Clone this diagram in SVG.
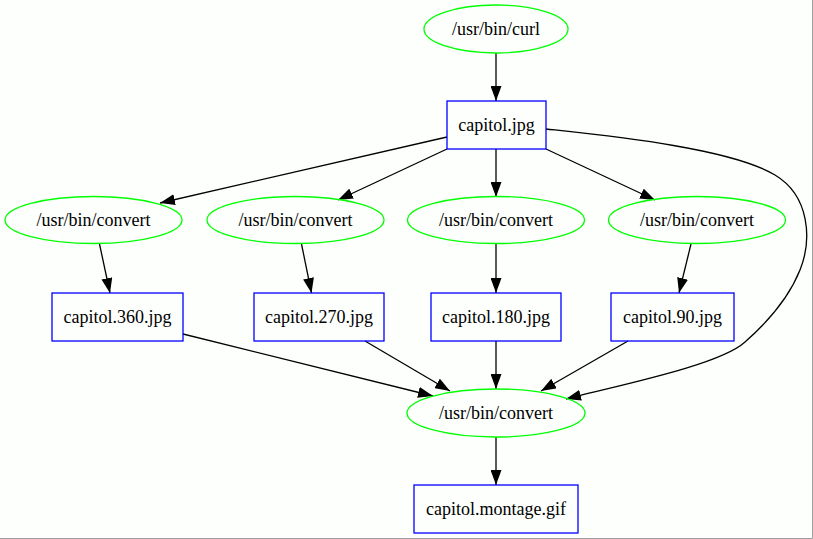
<svg xmlns="http://www.w3.org/2000/svg" width="813" height="539" viewBox="0 0 813 539">
<style>
text{font-family:"Liberation Serif","Times New Roman",serif;font-size:18px;fill:#000;text-anchor:middle}
.prog ellipse{fill:none;stroke:#00ff00;stroke-width:1.3}
.file rect{fill:none;stroke:#0000ff;stroke-width:1.3}
#edges path{fill:none;stroke:#000;stroke-width:1.3;marker-end:url(#arr)}
</style>
<defs>
<marker id="arr" markerUnits="userSpaceOnUse" markerWidth="15" markerHeight="11" refX="15" refY="5.5" orient="auto">
<path d="M0,0 L15,5.5 L0,11 z" fill="#000"/>
</marker>
</defs>
<rect x="0" y="0" width="813" height="539" fill="#fdfffd"/>
<path d="M812.5,0 V538.5 H0" fill="none" stroke="#a0a0a0" stroke-width="1"/>
<g id="edges">
<path d="M496,53 V101"/>
<path d="M447,137 L160,203"/>
<path d="M447,149 L338,200"/>
<path d="M496,149 V197"/>
<path d="M546,149 L655,200"/>
<path d="M546,129 C610,136 730,148 775,175 C810,196 812,240 800,270 C790,295 770,320 745,342 C720,365 620,385 566,399"/>
<path d="M99.5,244 L110,293"/>
<path d="M301.5,244 L311.5,293"/>
<path d="M496,244 V293"/>
<path d="M691,244 L679,293"/>
<path d="M183,334 L433,396"/>
<path d="M365,341 L450,391"/>
<path d="M496,341 V389"/>
<path d="M628,341 L541,391"/>
<path d="M496,437 V485"/>
</g>
<g id="curl" class="prog"><ellipse cx="496" cy="29" rx="72" ry="24"/><text x="496" y="35">/usr/bin/curl</text></g>
<g id="capitol_jpg" class="file"><rect x="447" y="101" width="99" height="48"/><text x="496.5" y="131">capitol.jpg</text></g>
<g id="convert1" class="prog"><ellipse cx="93.5" cy="220" rx="88.5" ry="23.5"/><text x="93.5" y="226">/usr/bin/convert</text></g>
<g id="convert2" class="prog"><ellipse cx="295.5" cy="220" rx="88.5" ry="23.5"/><text x="295.5" y="226">/usr/bin/convert</text></g>
<g id="convert3" class="prog"><ellipse cx="496" cy="220" rx="88.5" ry="23.5"/><text x="496" y="226">/usr/bin/convert</text></g>
<g id="convert4" class="prog"><ellipse cx="697" cy="220" rx="88.5" ry="23.5"/><text x="697" y="226">/usr/bin/convert</text></g>
<g id="capitol_360" class="file"><rect x="52" y="293" width="131" height="48"/><text x="117.5" y="323">capitol.360.jpg</text></g>
<g id="capitol_270" class="file"><rect x="254" y="293" width="130" height="48"/><text x="319" y="323">capitol.270.jpg</text></g>
<g id="capitol_180" class="file"><rect x="431" y="293" width="130" height="48"/><text x="496" y="323">capitol.180.jpg</text></g>
<g id="capitol_90" class="file"><rect x="611" y="293" width="123" height="48"/><text x="672.5" y="323">capitol.90.jpg</text></g>
<g id="convert_montage" class="prog"><ellipse cx="496" cy="413" rx="89" ry="24"/><text x="496" y="419">/usr/bin/convert</text></g>
<g id="capitol_montage" class="file"><rect x="414" y="485" width="164" height="48"/><text x="496" y="515">capitol.montage.gif</text></g>
</svg>
